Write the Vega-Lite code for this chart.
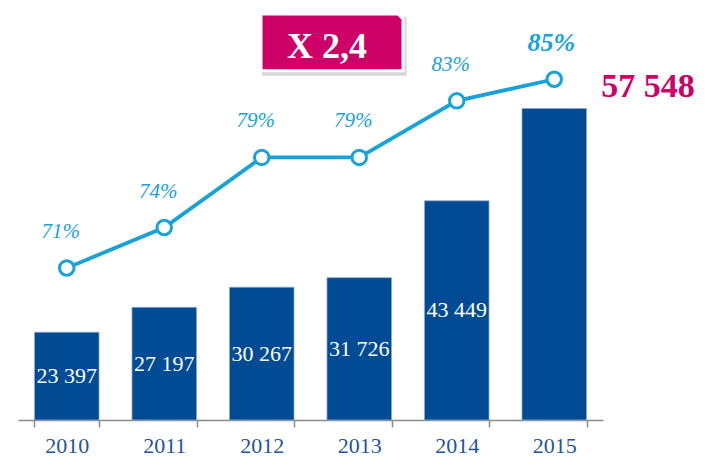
{
  "$schema": "https://vega.github.io/schema/vega-lite/v6.json",
  "width": 585,
  "height": 420,
  "autosize": {"type": "none"},
  "padding": {"left": 18, "top": 0, "right": 110, "bottom": 39},
  "config": {
    "view": {"stroke": null},
    "locale": {"number": {"decimal": ",", "thousands": " ", "grouping": [3], "currency": ["", ""]}}
  },
  "data": {
    "values": [
      {"year": "2010", "value": 23397, "rate": 0.71},
      {"year": "2011", "value": 27197, "rate": 0.74},
      {"year": "2012", "value": 30267, "rate": 0.792},
      {"year": "2013", "value": 31726, "rate": 0.792},
      {"year": "2014", "value": 43449, "rate": 0.834},
      {"year": "2015", "value": 57548, "rate": 0.85}
    ]
  },
  "encoding": {
    "x": {
      "field": "year",
      "type": "nominal",
      "scale": {"paddingInner": 0.338, "paddingOuter": 0.169},
      "axis": {
        "title": null,
        "labelAngle": 0,
        "domainColor": "#8c8c8c",
        "domainWidth": 1.5,
        "tickColor": "#8c8c8c",
        "tickWidth": 1.5,
        "tickSize": 7,
        "tickBand": "extent",
        "labelFont": "Liberation Serif",
        "labelFontSize": 22,
        "labelColor": "#1f5597",
        "labelPadding": 8,
        "grid": false
      }
    }
  },
  "layer": [
    {
      "mark": {"type": "bar", "color": "#004b93", "stroke": "#8fa9cf", "strokeWidth": 0.8},
      "encoding": {
        "y": {"field": "value", "type": "quantitative", "scale": {"domain": [10000, 74100], "zero": false, "nice": false}, "axis": null},
        "y2": {"datum": 10000}
      }
    },
    {
      "transform": [{"filter": "datum.year != '2015'"}],
      "mark": {"type": "text", "color": "white", "font": "Liberation Serif", "fontSize": 22, "baseline": "middle"},
      "encoding": {
        "y": {"field": "value", "type": "quantitative", "scale": {"domain": [10000, 138200], "zero": false, "nice": false}, "axis": null},
        "text": {"field": "value", "type": "quantitative", "format": ",d"}
      }
    },
    {
      "transform": [{"filter": "datum.year == '2015'"}],
      "mark": {"type": "text", "color": "#cc0066", "font": "Liberation Serif", "fontWeight": "bold", "fontSize": 34, "align": "left", "baseline": "alphabetic", "dx": 47, "dy": -11},
      "encoding": {
        "y": {"field": "value", "type": "quantitative", "scale": {"domain": [10000, 74100], "zero": false, "nice": false}, "axis": null},
        "text": {"field": "value", "type": "quantitative", "format": ",d"}
      }
    },
    {
      "mark": {"type": "line", "color": "#17a2da", "strokeWidth": 3.8},
      "encoding": {
        "y": {"field": "rate", "type": "quantitative", "scale": {"domain": [0.5972, 0.9088], "zero": false, "nice": false}, "axis": null}
      }
    },
    {
      "mark": {"type": "point", "filled": true, "fill": "white", "stroke": "#17a2da", "strokeWidth": 3, "size": 210, "opacity": 1},
      "encoding": {
        "y": {"field": "rate", "type": "quantitative", "scale": {"domain": [0.5972, 0.9088], "zero": false, "nice": false}, "axis": null}
      }
    },
    {
      "transform": [{"filter": "datum.year != '2015'"}],
      "mark": {"type": "text", "color": "#17a2da", "font": "Liberation Serif", "fontStyle": "italic", "fontSize": 21, "baseline": "middle", "dx": -6, "dy": -36},
      "encoding": {
        "y": {"field": "rate", "type": "quantitative", "scale": {"domain": [0.5972, 0.9088], "zero": false, "nice": false}, "axis": null},
        "text": {"field": "rate", "type": "quantitative", "format": ".0%"}
      }
    },
    {
      "transform": [{"filter": "datum.year == '2015'"}],
      "mark": {"type": "text", "color": "#17a2da", "font": "Liberation Serif", "fontStyle": "italic", "fontWeight": "bold", "fontSize": 26, "baseline": "middle", "dx": -3, "dy": -36},
      "encoding": {
        "y": {"field": "rate", "type": "quantitative", "scale": {"domain": [0.5972, 0.9088], "zero": false, "nice": false}, "axis": null},
        "text": {"field": "rate", "type": "quantitative", "format": ".0%"}
      }
    },
    {
      "data": {"values": [{"label": "X 2,4"}]},
      "layer": [
        {
          "mark": {"type": "point", "filled": true, "fill": "#9a9a9a", "opacity": 0.4, "strokeWidth": 0, "size": 20164, "shape": "M-0.99,-0.36 H1.05 V0.47 H-0.99 Z"},
          "encoding": {
            "x": {"datum": "2013", "type": "nominal", "bandPosition": 0.078},
            "y": {"datum": 0.8773, "type": "quantitative", "scale": {"domain": [0.5972, 0.9088], "zero": false, "nice": false}, "axis": null}
          }
        },
        {
          "mark": {"type": "point", "filled": true, "fill": "#cc0066", "stroke": "white", "strokeWidth": 3, "opacity": 1, "size": 20164, "shape": "M-1,-0.4 H0.93 L1,-0.33 V0.4 H-1 Z"},
          "encoding": {
            "x": {"datum": "2013", "type": "nominal", "bandPosition": 0.078},
            "y": {"datum": 0.8773, "type": "quantitative", "scale": {"domain": [0.5972, 0.9088], "zero": false, "nice": false}, "axis": null}
          }
        },
        {
          "mark": {"type": "text", "color": "white", "font": "Liberation Serif", "fontWeight": "bold", "fontSize": 36, "baseline": "alphabetic", "dx": -5, "dy": 16},
          "encoding": {
            "x": {"datum": "2013", "type": "nominal", "bandPosition": 0.078},
            "y": {"datum": 0.8773, "type": "quantitative", "scale": {"domain": [0.5972, 0.9088], "zero": false, "nice": false}, "axis": null},
            "text": {"field": "label", "type": "nominal"}
          }
        }
      ]
    }
  ],
  "resolve": {"scale": {"y": "independent"}}
}
